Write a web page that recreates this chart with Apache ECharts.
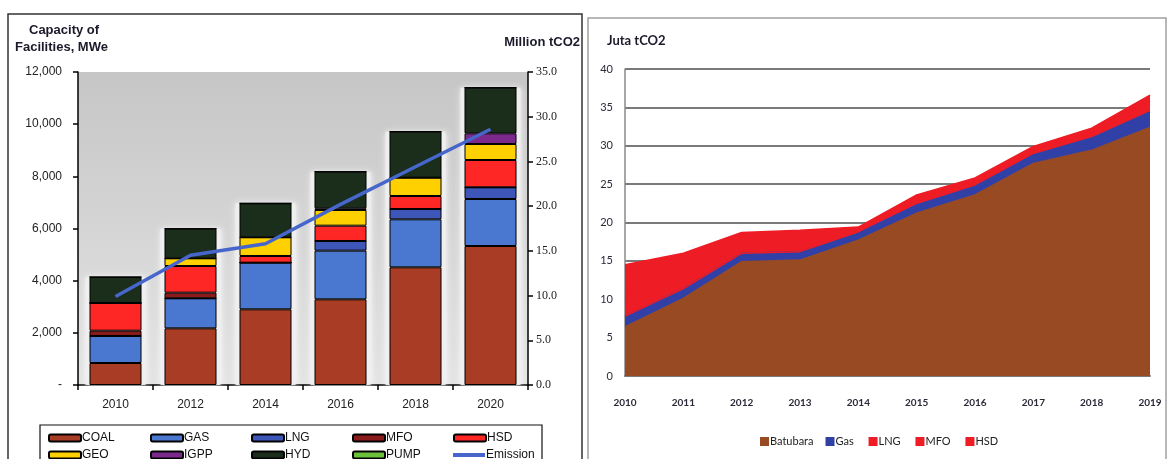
<!DOCTYPE html>
<html>
<head>
<meta charset="utf-8">
<script src="https://cdn.jsdelivr.net/npm/echarts@6/dist/echarts.min.js"></script>
<style>
  html, body { margin: 0; padding: 0; background: #fff; }
  #chart { width: 1167px; height: 459px; }
</style>
</head>
<body>
<div id="chart"></div>
<script>
// Left panel: installed capacity by fuel (MWe) and emission (million tCO2)
const capYears = ['2010', '2012', '2014', '2016', '2018', '2020'];
const coal = [843, 2173, 2902, 3285, 4512, 5329];
const gas  = [1036, 1150, 1788, 1865, 1840, 1802];
const lng  = [0, 0, 0, 371, 396, 448];
const mfo  = [203, 217, 0, 0, 0, 0];
const hsd  = [1062, 1022, 256, 587, 498, 1047];
const geo  = [0, 295, 717, 602, 702, 614];
const igpp = [0, 0, 0, 64, 0, 410];
const hyd  = [996, 1135, 1303, 1404, 1764, 1749];
const pump = [0, 0, 0, 0, 0, 0];
const emission = [9.9, 14.5, 15.8, 20.2, 24.4, 28.6];
const capTicks = [0, 2000, 4000, 6000, 8000, 10000, 12000];

// Right panel: emissions by fuel (juta tCO2)
const emYears = ['2010', '2011', '2012', '2013', '2014', '2015', '2016', '2017', '2018', '2019'];
const batubara = [6.4, 10.1, 14.9, 15.1, 17.7, 21.2, 23.6, 27.7, 29.4, 32.4];
const emGas    = [1.4, 1.3, 1.1, 1.1, 0.9, 1.1, 1.1, 1.1, 1.6, 2.0];
const emLng    = [0, 0, 0, 0, 0.2, 0.5, 0.4, 0.4, 0.5, 0.9];
const emMfo    = [2.4, 1.6, 0.9, 1.0, 0.2, 0.4, 0.4, 0.4, 0.4, 0.6];
const emHsd    = [4.3, 3.0, 1.8, 1.8, 0.4, 0.4, 0.3, 0.3, 0.4, 0.7];

const capSeries = [
  ['COAL', coal, '#a83c24'],
  ['GAS', gas, '#4a78d0'],
  ['LNG', lng, '#3d56b8'],
  ['MFO', mfo, '#8b1a1a'],
  ['HSD', hsd, '#ff2626'],
  ['GEO', geo, '#ffd000'],
  ['IGPP', igpp, '#7b2a8c'],
  ['HYD', hyd, '#1b2e1b'],
  ['PUMP', pump, '#6ac13a']
];
const totals = capYears.map((_, i) => capSeries.reduce((s, c) => s + c[1][i], 0));

const sansNarrow = '"Liberation Sans Narrow", "Liberation Sans", Arial, sans-serif';
const sans = '"Liberation Sans", Arial, sans-serif';
const calib = 'Lato, "Open Sans", sans-serif';

const series = [];
// soft pale halo behind each column
series.push({
  name: 'halo', type: 'bar', xAxisIndex: 1, yAxisIndex: 0,
  data: totals, barWidth: 60, silent: true, z: 1,
  itemStyle: { color: 'rgba(238,238,238,0.9)', shadowColor: 'rgba(255,255,255,1)', shadowBlur: 6 }
});
capSeries.forEach(([name, data, color]) => {
  series.push({
    name, type: 'bar', stack: 'cap', xAxisIndex: 0, yAxisIndex: 0,
    data, barWidth: 52, z: 3,
    itemStyle: { color, borderColor: '#000', borderWidth: 1 }
  });
});
series.push({
  name: 'Emission', type: 'line', xAxisIndex: 0, yAxisIndex: 1,
  data: emission, showSymbol: false, symbol: 'none', z: 5,
  lineStyle: { color: '#4666cc', width: 3.5 },
  itemStyle: { color: '#4666cc' }
});

// right panel stacked areas; legend names carry a trailing space to stay
// distinct from the capacity series of the same fuel
const emDefs = [
  ['Batubara', batubara, '#984a22'],
  ['Gas ', emGas, '#3140a6'],
  ['LNG ', emLng, '#ee1c25'],
  ['MFO ', emMfo, '#ee1c25'],
  ['HSD ', emHsd, '#ee1c25']
];
emDefs.forEach(([name, data, color]) => {
  series.push({
    name, type: 'line', stack: 'em', xAxisIndex: 2, yAxisIndex: 2,
    data, showSymbol: false, symbol: 'none',
    lineStyle: { width: 1.5, color },
    areaStyle: { color, opacity: 1 },
    itemStyle: { color }
  });
});

// left legend laid out as a 5 x 2 table
const legendCols = [48, 150, 251, 352, 453];
const legendRows = [432, 449];
const legendNames = ['COAL', 'GAS', 'LNG', 'MFO', 'HSD', 'GEO', 'IGPP', 'HYD', 'PUMP', 'Emission'];
const legends = legendNames.map((n, i) => {
  const isLine = n === 'Emission';
  return {
    data: isLine ? [{ name: n, icon: 'rect' }] : [n],
    left: legendCols[i % 5],
    top: legendRows[Math.floor(i / 5)],
    itemWidth: 32, itemHeight: isLine ? 4 : 7, padding: 0,
    selectedMode: false,
    textStyle: { fontFamily: sansNarrow, fontSize: 12, color: '#111', padding: [0, 0, 0, -4] }
  };
});
legends.push({
  data: emDefs.map(d => d[0]),
  left: 760, top: 436,
  itemWidth: 9, itemHeight: 9, itemGap: 12, padding: 0,
  selectedMode: false,
  icon: 'rect',
  textStyle: { fontFamily: calib, fontSize: 11, color: '#222', padding: [0, 0, 0, -4] }
});

const option = {
  animation: false,
  backgroundColor: '#fff',
  grid: [
    {
      left: 78, top: 72, width: 450, height: 313, show: true, borderWidth: 0,
      backgroundColor: new echarts.graphic.LinearGradient(0, 0, 0, 1, [
        { offset: 0, color: '#c6c6c6' },
        { offset: 1, color: '#e4e4e4' }
      ])
    },
    { left: 625, top: 69, width: 525, height: 307 }
  ],
  legend: legends,
  xAxis: [
    {
      type: 'category', gridIndex: 0, data: capYears, boundaryGap: true,
      axisLine: { lineStyle: { color: '#000', width: 1.5 } },
      axisTick: { show: true, length: 5, lineStyle: { color: '#000', width: 1.5 } },
      axisLabel: { margin: 14, fontFamily: sansNarrow, fontSize: 12, color: '#222' }
    },
    {
      type: 'category', gridIndex: 0, data: capYears, show: false
    },
    {
      type: 'category', gridIndex: 1, data: emYears, boundaryGap: false,
      axisLine: { lineStyle: { color: '#7a7a7a', width: 2 } },
      axisTick: { show: false },
      axisLabel: { margin: 22, fontFamily: calib, fontSize: 10, fontWeight: 'bold', color: '#2a2a3a' }
    }
  ],
  yAxis: [
    {
      type: 'value', gridIndex: 0, min: 0, max: 12000, interval: 2000,
      splitLine: { show: false },
      axisLine: { show: true, lineStyle: { color: '#000', width: 1.5 } },
      axisTick: { show: true, length: 5, lineStyle: { color: '#000', width: 1.5 } },
      axisLabel: {
        margin: 16, fontFamily: sansNarrow, fontSize: 12, color: '#222',
        formatter: v => capTicks.includes(v) ? (v === 0 ? '-' : v.toLocaleString('en-US')) : ''
      }
    },
    {
      type: 'value', gridIndex: 0, min: 0, max: 35, interval: 5, position: 'right',
      splitLine: { show: false },
      axisLine: { show: true, lineStyle: { color: '#000', width: 1.5 } },
      axisTick: { show: true, length: 5, lineStyle: { color: '#000', width: 1.5 } },
      axisLabel: {
        margin: 8, fontFamily: '"Liberation Serif", "Times New Roman", serif', fontSize: 12, color: '#222',
        formatter: v => v.toFixed(1)
      }
    },
    {
      type: 'value', gridIndex: 1, min: 0, max: 40, interval: 5,
      splitLine: { show: true, lineStyle: { color: '#7a7a7a', width: 2 } },
      axisLine: { show: true, lineStyle: { color: '#8a8a8a', width: 1.5 } },
      axisTick: { show: false },
      axisLabel: { margin: 12, fontFamily: calib, fontSize: 11, color: '#2a2a3a' }
    }
  ],
  series,
  graphic: [
    // panel frames
    { type: 'rect', z: -10, shape: { x: 8, y: 14, width: 574, height: 470 }, style: { fill: null, stroke: '#333', lineWidth: 1.5 }, silent: true },
    { type: 'rect', z: -10, shape: { x: 588, y: 18, width: 578, height: 470 }, style: { fill: null, stroke: '#a0a0a0', lineWidth: 1.5 }, silent: true },
    // left legend box
    { type: 'rect', z: -10, shape: { x: 40, y: 425, width: 502, height: 60 }, style: { fill: null, stroke: '#111', lineWidth: 1.2 }, silent: true },
    // axis titles
    { type: 'text', left: 29, top: 24, style: { text: 'Capacity of', font: 'bold 13px ' + sans, fill: '#1a1a2a' } },
    { type: 'text', left: 15, top: 41, style: { text: 'Facilities, MWe', font: 'bold 13px ' + sans, fill: '#1a1a2a' } },
    { type: 'text', right: 587, top: 36, style: { text: 'Million tCO2', font: 'bold 13px ' + sans, fill: '#1a1a2a' } },
    { type: 'text', left: 607, top: 34, style: { text: 'Juta tCO2', font: 'bold 13px ' + calib, fill: '#1a1a2a' } }
  ]
};

const chart = echarts.init(document.getElementById('chart'), null, { renderer: 'canvas' });
chart.setOption(option);
</script>
</body>
</html>
